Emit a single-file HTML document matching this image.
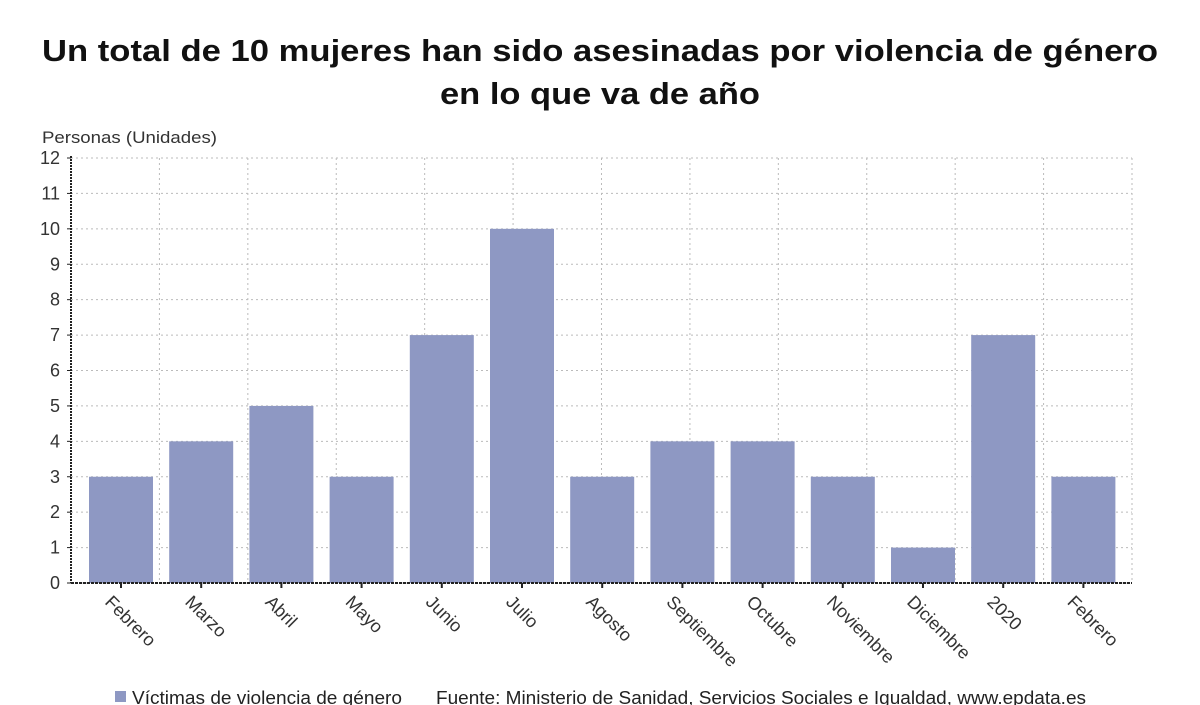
<!DOCTYPE html>
<html><head><meta charset="utf-8"><style>
body{margin:0;background:#fff;width:1200px;height:705px;overflow:hidden;font-family:"Liberation Sans","DejaVu Sans",sans-serif;}
</style></head><body>
<svg width="1200" height="705" id="svg" style="position:absolute;left:0;top:0">
<text x="42" y="61" textLength="1116" lengthAdjust="spacingAndGlyphs" font-size="31" font-weight="bold" fill="#111">Un total de 10 mujeres han sido asesinadas por violencia de género</text>
<text x="440" y="104" textLength="320" lengthAdjust="spacingAndGlyphs" font-size="31" font-weight="bold" fill="#111">en lo que va de año</text>
<text x="42" y="143" textLength="175" lengthAdjust="spacingAndGlyphs" font-size="17" fill="#333">Personas (Unidades)</text>
<g id="grid"></g><g id="bars"></g><g id="axes"></g>
<rect x="115" y="691" width="11" height="11" fill="#8e98c3"/>
<text x="132" y="704" textLength="270" lengthAdjust="spacingAndGlyphs" font-size="18" fill="#222">Víctimas de violencia de género</text>
<text x="436" y="704" textLength="650" lengthAdjust="spacingAndGlyphs" font-size="18" fill="#222">Fuente: Ministerio de Sanidad, Servicios Sociales e Igualdad, www.epdata.es</text>
</svg>
<script>
const categories=["Febrero","Marzo","Abril","Mayo","Junio","Julio","Agosto","Septiembre","Octubre","Noviembre","Diciembre","2020","Febrero"];
const values=[3,4,5,3,7,10,3,4,4,3,1,7,3];
const yTicks=[0,1,2,3,4,5,6,7,8,9,10,11,12];
const NS="http://www.w3.org/2000/svg";
const L=71,R=1132,T=158,B=583,yMax=12;
const step=80.2,first=121,bw=64;
function y(v){return B-(v/yMax)*(B-T);}
function x(i){return first+i*step;}
function mk(tag,attrs,parent){const e=document.createElementNS(NS,tag);for(const k in attrs)e.setAttribute(k,attrs[k]);document.getElementById(parent).appendChild(e);return e;}
yTicks.forEach(t=>{
 const g=mk('line',{x1:L,x2:R,y1:y(t),y2:y(t),stroke:'#bbb','stroke-dasharray':'2,3'},'grid');
 
 
 const tx=mk('text',{x:60,y:y(t)+6,'text-anchor':'end','font-size':18,fill:'#333'},'axes');
 tx.textContent=t;
 
 
 mk('line',{x1:L-4,x2:L,y1:y(t),y2:y(t),stroke:'#222'},'axes');
});
for(let i=1;i<=12;i++){
 const gx=L+i*(R-L)/12;
 const g=mk('line',{x1:gx,x2:gx,y1:T,y2:B,stroke:'#bbb','stroke-dasharray':'2,3'},'grid');
 
 
}
values.forEach((v,i)=>{
 const r=mk('rect',{x:x(i)-bw/2,y:y(v),width:bw,height:B-y(v),fill:'#8e98c3'},'bars');
 
 
 mk('line',{x1:x(i),x2:x(i),y1:B,y2:B+5,stroke:'#222','stroke-width':2},'axes');
 const ax=x(i)-8, ay=B+11;
 const t=mk('text',{x:ax,y:ay,'font-size':18,fill:'#333',transform:`rotate(45 ${ax} ${ay})`,'dominant-baseline':'hanging'},'axes');
 t.textContent=categories[i];
 
 
});
const ya=mk('line',{x1:L,x2:L,y1:T-2,y2:B,stroke:'#222','stroke-width':2,'stroke-dasharray':'2,1'},'axes');


const xa=mk('line',{x1:L,x2:R,y1:B,y2:B,stroke:'#222','stroke-width':2,'stroke-dasharray':'3,1'},'axes');


</script>
</body></html>
